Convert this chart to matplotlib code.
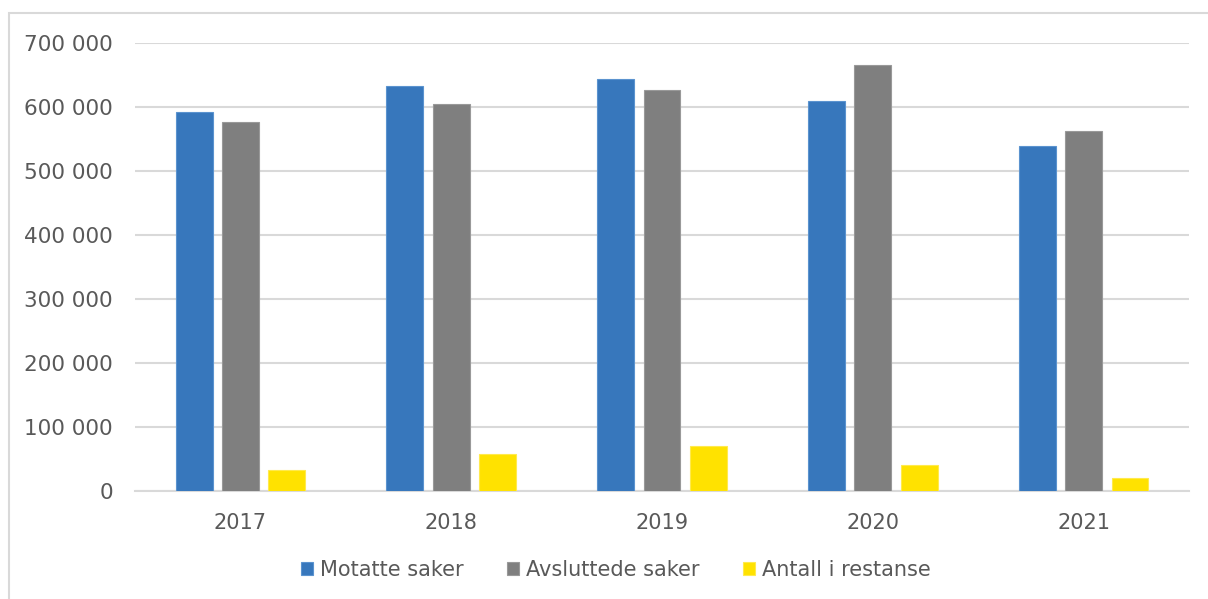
import matplotlib.pyplot as plt
import matplotlib.patches as patches
import numpy as np

years = ["2017", "2018", "2019", "2020", "2021"]
motatte = [592000, 632000, 644000, 609000, 539000]
avsluttede = [576000, 605000, 626000, 665000, 562000]
restanse = [33000, 58000, 70000, 40000, 21000]
labels = ["Motatte saker", "Avsluttede saker", "Antall i restanse"]
colors = ["#3777BC", "#7F7F7F", "#FFE200"]
edges = ["#5B93CF", "#999999", "#FFEA4D"]

plt.rcParams['font.family'] = ['DejaVu Sans']
fig = plt.figure(figsize=(12.08, 5.99), dpi=100)
ax = fig.add_axes([0.1118, 0.1803, 0.8725, 0.7484])

x = np.arange(len(years))
w = 0.175
step = 0.22
series = [motatte, avsluttede, restanse]
for i in range(3):
    ax.bar(x + (i - 1) * step, series[i], width=w, color=colors[i],
           edgecolor=edges[i], linewidth=0.8, label=labels[i], zorder=3)

ax.set_xlim(-0.5, len(years) - 0.5)
ax.set_ylim(0, 700000)
yt = np.arange(0, 700001, 100000)
ax.set_yticks(yt)
ax.set_yticklabels([f"{v:,}".replace(",", " ") for v in yt])
ax.set_xticks(x)
ax.set_xticklabels(years)
ax.tick_params(axis='both', length=0, labelsize=15, labelcolor='#595959')
ax.tick_params(axis='y', pad=16, labelsize=15.5)
ax.tick_params(axis='x', pad=16)
ax.grid(axis='y', color='#d9d9d9', linewidth=1.5, zorder=0)
for s in ['top', 'right', 'left']:
    ax.spines[s].set_visible(False)
ax.spines['bottom'].set_color('#d9d9d9')
ax.spines['bottom'].set_linewidth(1.5)

leg = fig.legend(loc='center', bbox_to_anchor=(0.51, 1 - 570 / 599), ncol=3,
                 frameon=False, fontsize=15, handlelength=0.55, handleheight=0.55,
                 handletextpad=0.35, columnspacing=2.1)
for t in leg.get_texts():
    t.set_color('#595959')

# outer chart frame (cut off at right and bottom)
frame = patches.Rectangle((9 / 1208, -0.1), 1.2, 1 - 13 / 599 + 0.1,
                          transform=fig.transFigure, fill=False,
                          edgecolor='#d9d9d9', linewidth=1.5, clip_on=False)
fig.patches.append(frame)

fig.savefig("out.png", dpi=100)
